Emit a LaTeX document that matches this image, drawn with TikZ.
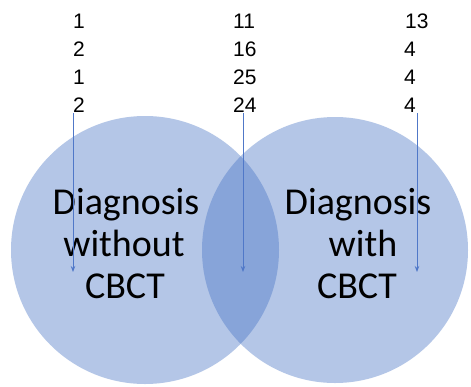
\documentclass[tikz,border=0pt]{standalone}
\usepackage{fontspec}
\setmainfont{Liberation Sans}
\newfontfamily\calfont{Carlito}
\usetikzlibrary{arrows.meta}
\definecolor{vennblue}{RGB}{68,114,196}
\definecolor{arrblue}{RGB}{80,120,200}
\tikzset{
  setcirc/.style={fill=vennblue, fill opacity=0.4, draw=none},
  num/.style={font=\fontsize{21}{24}\selectfont, inner sep=0pt, anchor=base west},
  lbl/.style={font=\calfont\fontsize{38}{42}\selectfont, inner sep=0pt, anchor=base},
  arr/.style={draw=arrblue, line width=0.9pt, -{Stealth[length=6pt,width=4.5pt]}}
}
\begin{document}
\begin{tikzpicture}[x=1pt,y=-1pt]
\useasboundingbox (0,0) rectangle (471,386);
\fill[white] (0,0) rectangle (471,386);
% circles
\path[setcirc] (145,250) circle[radius=134];
\path[setcirc] (335,250) circle[radius=133];
% numbers
\node[num] (n11) at (73,28) {1};
\node[num] (n12) at (73,56) {2};
\node[num] (n13) at (73,84) {1};
\node[num] (n14) at (73,112) {2};
\node[num] (n21) at (233,28) {11};
\node[num] (n22) at (233,56) {16};
\node[num] (n23) at (233,84) {25};
\node[num] (n24) at (233,112) {24};
\node[num] (n31) at (405,28) {13};
\node[num] (n32) at (404,56) {4};
\node[num] (n33) at (404,84) {4};
\node[num] (n34) at (404,112) {4};
% labels
\node[lbl] (l1) at (126,214) {Diagnosis};
\node[lbl] (l2) at (124,256) {without};
\node[lbl] (l3) at (125,298) {CBCT};
\node[lbl] (r1) at (358,214) {Diagnosis};
\node[lbl] (r2) at (363,256) {with};
\node[lbl] (r3) at (357,298) {CBCT};
% arrows
\coordinate (a1s) at (73,113);
\coordinate (a1e) at (73,272);
\coordinate (a2s) at (243,113);
\coordinate (a2e) at (243,272);
\coordinate (a3s) at (417,113);
\coordinate (a3e) at (417,272);
\draw[arr] (a1s) -- (a1e);
\draw[arr] (a2s) -- (a2e);
\draw[arr] (a3s) -- (a3e);
\end{tikzpicture}
\end{document}
